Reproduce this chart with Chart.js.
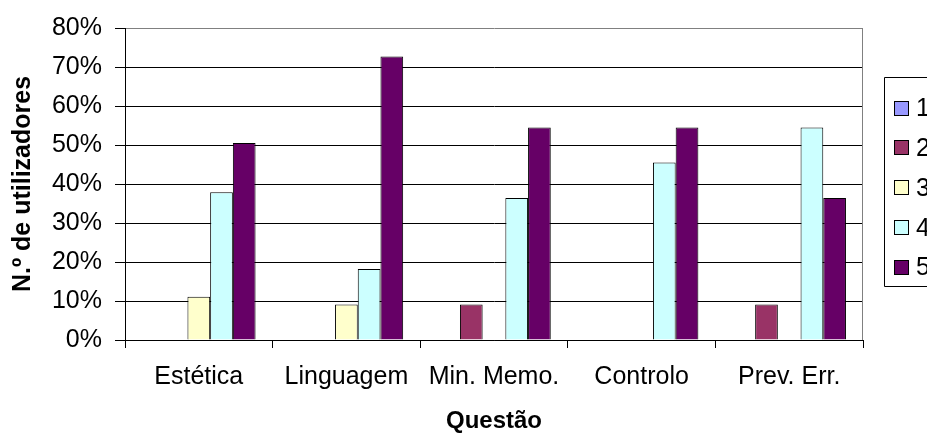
<!DOCTYPE html>
<html>
<head>
<meta charset="utf-8">
<title>N.º de utilizadores por questão</title>
<script src="https://cdn.jsdelivr.net/npm/chart.js@4/dist/chart.umd.min.js"></script>
<style>
  html, body { margin: 0; padding: 0; background: #ffffff; }
  #wrap { width: 927px; height: 434px; }
</style>
</head>
<body>
<div id="wrap"><canvas id="chart" width="927" height="434"></canvas></div>
<script>
// Questions (x categories)
const categories = ['Estética', 'Linguagem', 'Min. Memo.', 'Controlo', 'Prev. Err.'];

// Share of users (%) giving each rating, per question
const rating1 = [0, 0, 0, 0, 0];
const rating2 = [0, 0, 9.1, 0, 9.1];
const rating3 = [11.1, 9.1, 0, 0, 0];
const rating4 = [37.9, 18.2, 36.4, 45.5, 54.5];
const rating5 = [50.5, 72.7, 54.5, 54.5, 36.4];

const seriesLabels = ['1', '2', '3', '4', '5'];
const seriesColors = ['#9999FF', '#993366', '#FFFFCC', '#CCFFFF', '#660066'];
const seriesValues = [rating1, rating2, rating3, rating4, rating5];

const FONT = "'Liberation Sans', Arial, sans-serif";

// Boxed legend on the right, plus the grey right-hand frame of the plot area
const frameAndLegend = {
  id: 'frameAndLegend',
  afterDraw(chart) {
    const ctx = chart.ctx;
    const a = chart.chartArea;
    ctx.save();
    ctx.strokeStyle = '#808080';
    ctx.lineWidth = 1;
    ctx.beginPath();
    ctx.moveTo(Math.round(a.right) - 0.5, a.top);
    ctx.lineTo(Math.round(a.right) - 0.5, a.bottom);
    ctx.stroke();

    // legend frame
    ctx.strokeStyle = '#000000';
    ctx.beginPath();
    ctx.rect(884.5, 77.5, 80, 209);
    ctx.stroke();

    ctx.font = '25px ' + FONT;
    ctx.textBaseline = 'middle';
    ctx.textAlign = 'left';
    chart.data.datasets.forEach((ds, i) => {
      const cy = 108.5 + i * 39.75;
      ctx.fillStyle = ds.backgroundColor;
      ctx.fillRect(895, Math.round(cy - 7), 13, 13);
      ctx.strokeStyle = '#000000';
      ctx.strokeRect(894.5, Math.round(cy - 7) - 0.5, 14, 14);
      ctx.fillStyle = '#000000';
      ctx.fillText(ds.label, 916, cy + 1);
    });
    ctx.restore();
  }
};

new Chart(document.getElementById('chart'), {
  type: 'bar',
  data: {
    labels: categories,
    datasets: seriesValues.map((vals, i) => ({
      label: seriesLabels[i],
      data: vals,
      backgroundColor: seriesColors[i],
      borderColor: '#000000',
      borderWidth: 1,
      categoryPercentage: 5 / 6.5,
      barPercentage: 1
    }))
  },
  options: {
    responsive: false,
    animation: false,
    devicePixelRatio: 1,
    layout: { padding: { top: 23, right: 64, left: 0, bottom: 0 } },
    plugins: {
      legend: { display: false },
      tooltip: { enabled: false }
    },
    scales: {
      x: {
        afterFit(scale) { scale.height = 94; },
        grid: {
          display: true,
          drawOnChartArea: false,
          offset: true,
          tickLength: 8,
          tickColor: '#000000'
        },
        border: { color: '#000000', width: 1 },
        ticks: {
          color: '#000000',
          padding: 14,
          font: { family: FONT, size: 25 }
        },
        title: {
          display: true,
          text: 'Questão',
          color: '#000000',
          padding: { top: 0, bottom: -2 },
          font: { family: FONT, size: 24, weight: 'bold' }
        }
      },
      y: {
        min: 0,
        max: 80,
        afterFit(scale) { scale.width = 125; },
        grid: {
          color: (c) => (c.tick && c.tick.value === 80 ? '#808080' : '#000000'),
          tickLength: 10,
          tickColor: '#000000',
          lineWidth: 1
        },
        border: { color: '#000000', width: 1 },
        ticks: {
          stepSize: 10,
          color: '#000000',
          padding: 13,
          font: { family: FONT, size: 25 },
          callback: (v) => v + '%'
        },
        title: {
          display: true,
          text: 'N.º de utilizadores',
          color: '#000000',
          padding: { top: 8, bottom: 0 },
          font: { family: FONT, size: 25, weight: 'bold' }
        }
      }
    }
  },
  plugins: [frameAndLegend]
});
</script>
</body>
</html>
